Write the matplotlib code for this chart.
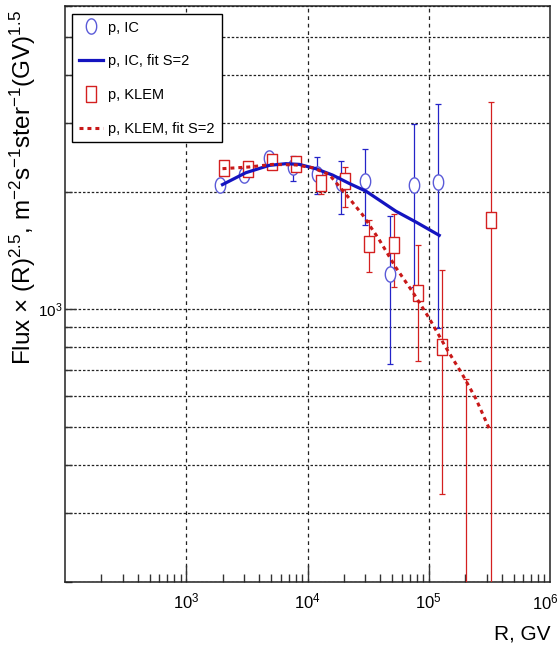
import numpy as np
import matplotlib
matplotlib.use('Agg')
import matplotlib.pyplot as plt
from matplotlib.ticker import LogLocator, FixedLocator, NullFormatter
from matplotlib.lines import Line2D

plt.rcParams['font.family'] = ['Liberation Sans', 'DejaVu Sans']
plt.rcParams['mathtext.fontset'] = 'custom'
plt.rcParams['mathtext.rm'] = 'Liberation Sans'
plt.rcParams['mathtext.default'] = 'regular'

# p, IC
ic_R = [1900, 3000, 4800, 7600, 12000, 19000, 30000, 48000, 76000, 120000]
ic_F = [2090, 2206, 2450, 2319, 2228, 2112, 2133, 1231, 2084, 2121]
ic_lo = [2070, 2185, 2425, 2141, 1982, 1762, 1643, 726, 1144, 897]
ic_hi = [2110, 2225, 2475, 2475, 2460, 2407, 2574, 1734, 2985, 3362]

# p, KLEM
kl_R = [2050, 3250, 5100, 8100, 12900, 20400, 32400, 51300, 81300, 129000, 204000, 324000]
kl_F = [2309, 2286, 2388, 2354, 2112, 2133, 1473, 1459, 1100, 801, 150, 1699]
kl_lo = [2290, 2265, 2365, 2330, 1979, 1832, 1251, 1144, 736, 337, 140, 100]
kl_hi = [2330, 2305, 2410, 2375, 2218, 2323, 1693, 1760, 1465, 1263, 664, 3402]

# fits, S=2
ic_fit_R = [1990, 3100, 4830, 6640, 8550, 11700, 16100, 22100, 30300, 53600, 78300, 122000]
ic_fit_F = [2090, 2242, 2341, 2365, 2355, 2296, 2211, 2104, 2011, 1786, 1676, 1549]
kl_fit_R = [1990, 3300, 5140, 8020, 11000, 15100, 22000, 28400, 39000, 53600, 73500,
            100700, 138000, 190000, 245000, 315000]
kl_fit_F = [2296, 2319, 2355, 2347, 2309, 2218, 1930, 1750, 1510, 1280, 1110,
            950, 800, 680, 590, 495]

x_major = [1e3, 1e4, 1e5]

blue = '#2424c8'
red = '#d42020'

# tall markers (ellipse / rectangle)
t = np.linspace(0, 2*np.pi, 40)
ellipse = list(zip(0.68*np.cos(t), np.sin(t)))
rect = [(-0.68, -1), (0.68, -1), (0.68, 1), (-0.68, 1), (-0.68, -1)]

fig = plt.figure(figsize=(5.6, 6.47), dpi=100)
ax = fig.add_axes([65/560, 65/647, 485/560, 576/647])
ax.set_xscale('log')
ax.set_yscale('log')
ax.set_xlim(100, 1e6)
ax.set_ylim(200, 6000)

ic = np.array(ic_F)
kl = np.array(kl_F)
ax.errorbar(ic_R, ic_F, yerr=[ic - np.array(ic_lo), np.array(ic_hi) - ic],
            fmt='none', ecolor=blue, elinewidth=0.9, capsize=2.5, capthick=0.9, zorder=3)
ax.plot(ic_R, ic_F, linestyle='none', marker=ellipse, ms=11, mfc='white',
        mec='#5a5ad8', mew=1.0, zorder=4)
ax.errorbar(kl_R, kl_F, yerr=[kl - np.array(kl_lo), np.array(kl_hi) - kl],
            fmt='none', ecolor=red, elinewidth=0.9, capsize=2.5, capthick=0.9, zorder=3)
ax.plot(kl_R, kl_F, linestyle='none', marker=rect, ms=11, mfc='white',
        mec=red, mew=1.0, zorder=4)

ax.plot(ic_fit_R, ic_fit_F, color='#1414c0', lw=2.3, zorder=5)
ax.plot(kl_fit_R, kl_fit_F, color='#c81818', lw=2.2, linestyle=(0, (1.3, 1.3)), zorder=5)

ax.xaxis.set_major_locator(FixedLocator(x_major))
ax.xaxis.set_minor_locator(LogLocator(base=10, subs=np.arange(2, 10), numticks=20))
ax.yaxis.set_minor_locator(LogLocator(base=10, subs=np.arange(2, 10), numticks=20))
ax.xaxis.set_minor_formatter(NullFormatter())
ax.yaxis.set_minor_formatter(NullFormatter())

ax.xaxis.grid(True, which='major', color='#222222', lw=0.9, linestyle=(0, (3, 3)))
ax.yaxis.grid(True, which='both', color='#222222', lw=0.9, linestyle=(0, (2, 1.5)))

ax.tick_params(which='both', direction='in', top=False, right=False, color='#333333')
ax.tick_params(axis='x', which='major', length=12, width=1, pad=7, labelsize=12)
ax.tick_params(axis='x', which='minor', length=6, width=1)
ax.tick_params(axis='y', which='major', length=8, width=1, pad=2, labelsize=11)
ax.tick_params(axis='y', which='minor', length=5, width=1)
for s in ax.spines.values():
    s.set_linewidth(1.1)
    s.set_color('#222222')

# last decade label sits on the right frame edge
fig.text(559/560, 1 - 609/647, r'$10^{6}$', ha='right', va='baseline', fontsize=12)
fig.text(550/560, 7/647, 'R, GV', ha='right', va='baseline', fontsize=15)
fig.text(23/560, 1 - 10/647,
         r'Flux $\times$ (R)$^{2.5}$, m$^{-2}$s$^{-1}$ster$^{-1}$(GV)$^{1.5}$',
         rotation=90, ha='center', va='top', fontsize=17.5)

handles = [
    Line2D([], [], linestyle='none', marker=ellipse, ms=11, mfc='white', mec='#5a5ad8'),
    Line2D([], [], color='#1414c0', lw=2.3),
    Line2D([], [], linestyle='none', marker=rect, ms=11, mfc='white', mec=red),
    Line2D([], [], color='#c81818', lw=2.2, linestyle=(0, (1.3, 1.3))),
]
labels = ['p, IC', 'p, IC, fit S=2', 'p, KLEM', 'p, KLEM, fit S=2']
leg = fig.legend(handles, labels, loc='upper left', bbox_to_anchor=(72/560, 1 - 14/647),
                 fontsize=10.5, frameon=True, fancybox=False, edgecolor='black',
                 framealpha=1, labelspacing=1.35, handlelength=1.7, handletextpad=0.35,
                 borderpad=0.45, borderaxespad=0)
leg.get_frame().set_linewidth(1.0)

fig.savefig('out.png', dpi=100)
